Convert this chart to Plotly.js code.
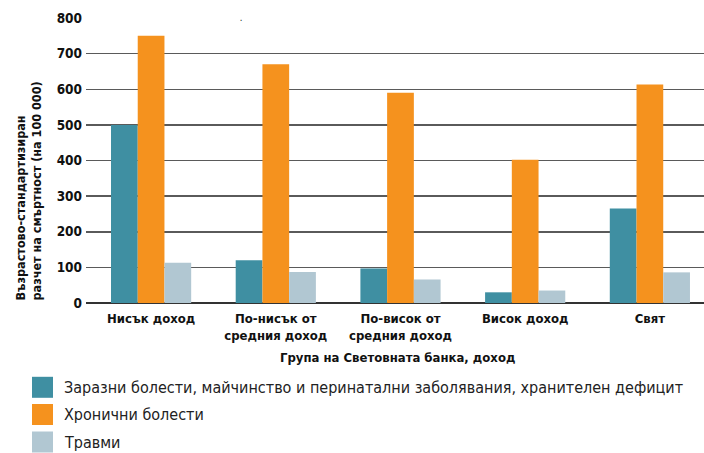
<!DOCTYPE html>
<html>
<head>
<meta charset="utf-8">
<script src="https://cdn.plot.ly/plotly-3.0.1.min.js"></script>
<style>
html,body{margin:0;padding:0;background:#fff;}
#chart{width:704px;height:453px;}
text{font-stretch:condensed !important;}
</style>
</head>
<body>
<div id="chart"></div>
<script>
const categories = ["Нисък доход", "По-нисък от<br>средния доход", "По-висок от<br>средния доход", "Висок доход", "Свят"];
const seriesNames = [
  "Заразни болести, майчинство и перинатални заболявания, хранителен дефицит",
  "Хронични болести",
  "Травми"
];
const infectious = [500, 120, 97, 30, 265];
const chronic = [750, 670, 590, 402, 613];
const injuries = [113, 87, 66, 35, 86];
const colors = ["#3f8fa2", "#f5921e", "#b1c7d2"];
const yTicks = [0, 100, 200, 300, 400, 500, 600, 700, 800];
const yTitle = "Възрастово-стандартизиран<br>разчет на смъртност (на 100 000)";
const xTitle = "Група на Световната банка, доход";

const W = 704, H = 453;
const M = {l: 86, r: 0, t: 18, b: 150};
const pw = W - M.l - M.r, ph = H - M.t - M.b;
const px = x => (x - M.l) / pw;
const py = y => (H - M.b - y) / ph;

const values = [infectious, chronic, injuries];
const traces = values.map((v, i) => ({
  type: "bar",
  x: categories,
  y: v,
  name: seriesNames[i],
  marker: {color: colors[i], line: {width: 0}},
  hoverinfo: "x+y"
}));

const FN = "DejaVu Sans, sans-serif";
const annotations = [
  {text: yTitle, textangle: -90, xref: "paper", yref: "paper", x: px(28), y: py(303),
   showarrow: false, xanchor: "center", yanchor: "bottom", align: "left",
   font: {family: FN, size: 12.5, weight: 700, color: "#111"}},
  {text: xTitle, xref: "paper", yref: "paper", x: px(397), y: py(357),
   showarrow: false, xanchor: "center", yanchor: "middle",
   font: {family: FN, size: 13, weight: 700, color: "#111"}},
  {text: ".", xref: "paper", yref: "paper", x: px(238), y: py(8),
   showarrow: false, font: {size: 10, color: "#111"}}
];
const shapes = [];
const rowY = [387.3, 414.5, 442];
seriesNames.forEach((n, i) => {
  shapes.push({type: "rect", xref: "paper", yref: "paper",
    xsizemode: "pixel", ysizemode: "pixel",
    xanchor: px(42.5), yanchor: py(rowY[i]),
    x0: -10.5, x1: 10.5, y0: -10.5, y1: 10.5,
    fillcolor: colors[i], line: {width: 0}});
  annotations.push({text: n, xref: "paper", yref: "paper", x: px(62), y: py(rowY[i]),
    xanchor: "left", yanchor: "middle", align: "left", showarrow: false,
    font: {family: FN, size: 16, color: "#222"}});
});

const layout = {
  width: W, height: H,
  margin: M,
  paper_bgcolor: "#fff", plot_bgcolor: "#fff",
  showlegend: false,
  barmode: "group",
  bargap: 0.357, bargroupgap: 0,
  xaxis: {
    type: "category",
    range: [-0.522, 4.434],
    tickfont: {family: FN, size: 13, weight: 700, color: "#111"},
    showgrid: false, ticks: "", showline: false, zeroline: false,
    ticklabelstandoff: 6,
    fixedrange: true
  },
  yaxis: {
    range: [0, 800],
    tickvals: yTicks,
    ticktext: yTicks.map(String),
    tickfont: {family: FN, size: 13.5, weight: 700, color: "#111"},
    showgrid: true, gridcolor: "#5a5a5a", gridwidth: 1.5,
    zeroline: true, zerolinecolor: "#333", zerolinewidth: 1.5,
    ticks: "", ticklabelstandoff: 3,
    fixedrange: true
  },
  annotations: annotations,
  shapes: shapes
};

Plotly.newPlot("chart", traces, layout, {displayModeBar: false, staticPlot: true});
</script>
</body>
</html>
